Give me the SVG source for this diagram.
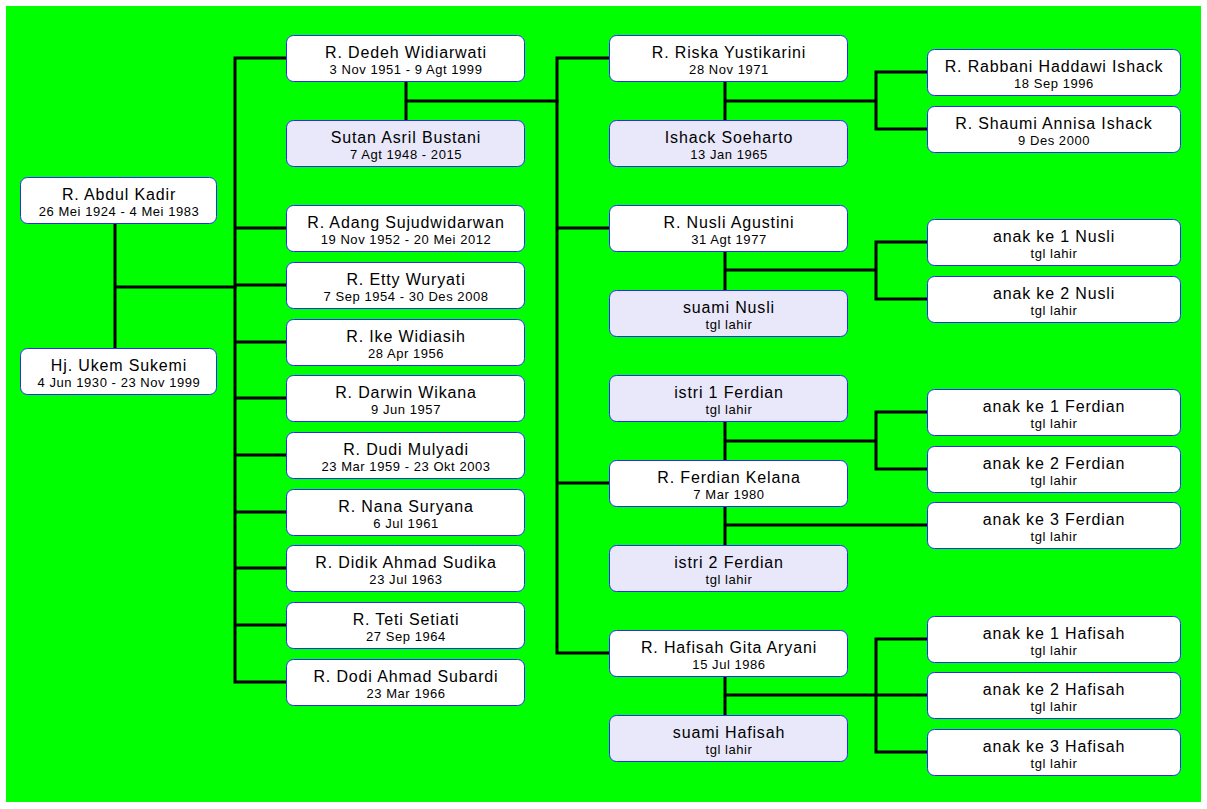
<svg xmlns="http://www.w3.org/2000/svg" width="1207" height="809" viewBox="0 0 1207 809">
<style>
.box{fill:#ffffff;stroke:#2a2aff;stroke-width:1}
.sp{fill:#e8e8fa;stroke:#2a2aff;stroke-width:1}
.n{font-family:"Liberation Sans",Arial,sans-serif;font-size:16px;letter-spacing:0.85px;fill:#000;text-anchor:middle}
.d{font-family:"Liberation Sans",Arial,sans-serif;font-size:13px;letter-spacing:0.55px;fill:#000;text-anchor:middle}
.c{fill:none;stroke:#000;stroke-width:3;stroke-linejoin:miter;stroke-linecap:square}
</style>
<rect x="0" y="0" width="1207" height="809" fill="#ffffff"/>
<rect x="6" y="6" width="1195" height="796" fill="#00ff00"/>
<g id="connectors" class="c">
<path d="M115 225V347M115 287H235"/>
<path d="M286 58H235V682H286M235 228H286M235 285H286M235 342H286M235 398H286M235 455H286M235 512H286M235 568H286M235 625H286"/>
<path d="M406 82V119M406 101H557"/>
<path d="M609 58H557V653H609M557 228H609M557 483H609"/>
<path d="M725 82V119M725 101H876M928 72H876V129H928"/>
<path d="M725 252V289M725 270H876M928 242H876V299H928"/>
<path d="M725 422V459M725 441H876M928 412H876V469H928M725 507V544M725 525H928"/>
<path d="M725 677V714M725 695H928M928 639H876V752H928"/>
</g>
<g id="n-abdul"><rect class="box" x="20.5" y="177.5" width="196" height="46" rx="7"/><text class="n" x="119" y="200">R. Abdul Kadir</text><text class="d" x="119" y="216">26 Mei 1924 - 4 Mei 1983</text></g>
<g id="n-ukem"><rect class="box" x="20.5" y="348.5" width="196" height="46" rx="7"/><text class="n" x="119" y="371">Hj. Ukem Sukemi</text><text class="d" x="119" y="387">4 Jun 1930 - 23 Nov 1999</text></g>

<g id="n-dedeh"><rect class="box" x="286.5" y="35.5" width="238" height="46" rx="7"/><text class="n" x="406" y="58">R. Dedeh Widiarwati</text><text class="d" x="406" y="74">3 Nov 1951 - 9 Agt 1999</text></g>
<g id="n-sutan"><rect class="sp" x="286.5" y="120.5" width="238" height="46" rx="7"/><text class="n" x="406" y="143">Sutan Asril Bustani</text><text class="d" x="406" y="159">7 Agt 1948 - 2015</text></g>
<g id="n-adang"><rect class="box" x="286.5" y="205.5" width="238" height="46" rx="7"/><text class="n" x="406" y="228">R. Adang Sujudwidarwan</text><text class="d" x="406" y="244">19 Nov 1952 - 20 Mei 2012</text></g>
<g id="n-etty"><rect class="box" x="286.5" y="262.5" width="238" height="46" rx="7"/><text class="n" x="406" y="285">R. Etty Wuryati</text><text class="d" x="406" y="301">7 Sep 1954 - 30 Des 2008</text></g>
<g id="n-ike"><rect class="box" x="286.5" y="319.5" width="238" height="46" rx="7"/><text class="n" x="406" y="342">R. Ike Widiasih</text><text class="d" x="406" y="358">28 Apr 1956</text></g>
<g id="n-darwin"><rect class="box" x="286.5" y="375.5" width="238" height="46" rx="7"/><text class="n" x="406" y="398">R. Darwin Wikana</text><text class="d" x="406" y="414">9 Jun 1957</text></g>
<g id="n-dudi"><rect class="box" x="286.5" y="432.5" width="238" height="46" rx="7"/><text class="n" x="406" y="455">R. Dudi Mulyadi</text><text class="d" x="406" y="471">23 Mar 1959 - 23 Okt 2003</text></g>
<g id="n-nana"><rect class="box" x="286.5" y="489.5" width="238" height="46" rx="7"/><text class="n" x="406" y="512">R. Nana Suryana</text><text class="d" x="406" y="528">6 Jul 1961</text></g>
<g id="n-didik"><rect class="box" x="286.5" y="545.5" width="238" height="46" rx="7"/><text class="n" x="406" y="568">R. Didik Ahmad Sudika</text><text class="d" x="406" y="584">23 Jul 1963</text></g>
<g id="n-teti"><rect class="box" x="286.5" y="602.5" width="238" height="46" rx="7"/><text class="n" x="406" y="625">R. Teti Setiati</text><text class="d" x="406" y="641">27 Sep 1964</text></g>
<g id="n-dodi"><rect class="box" x="286.5" y="659.5" width="238" height="46" rx="7"/><text class="n" x="406" y="682">R. Dodi Ahmad Subardi</text><text class="d" x="406" y="698">23 Mar 1966</text></g>

<g id="n-riska"><rect class="box" x="609.5" y="35.5" width="238" height="46" rx="7"/><text class="n" x="729" y="58">R. Riska Yustikarini</text><text class="d" x="729" y="74">28 Nov 1971</text></g>
<g id="n-ishack"><rect class="sp" x="609.5" y="120.5" width="238" height="46" rx="7"/><text class="n" x="729" y="143">Ishack Soeharto</text><text class="d" x="729" y="159">13 Jan 1965</text></g>
<g id="n-nusli"><rect class="box" x="609.5" y="205.5" width="238" height="46" rx="7"/><text class="n" x="729" y="228">R. Nusli Agustini</text><text class="d" x="729" y="244">31 Agt 1977</text></g>
<g id="n-suaminusli"><rect class="sp" x="609.5" y="290.5" width="238" height="46" rx="7"/><text class="n" x="729" y="313">suami Nusli</text><text class="d" x="729" y="329">tgl lahir</text></g>
<g id="n-istri1"><rect class="sp" x="609.5" y="375.5" width="238" height="46" rx="7"/><text class="n" x="729" y="398">istri 1 Ferdian</text><text class="d" x="729" y="414">tgl lahir</text></g>
<g id="n-ferdian"><rect class="box" x="609.5" y="460.5" width="238" height="46" rx="7"/><text class="n" x="729" y="483">R. Ferdian Kelana</text><text class="d" x="729" y="499">7 Mar 1980</text></g>
<g id="n-istri2"><rect class="sp" x="609.5" y="545.5" width="238" height="46" rx="7"/><text class="n" x="729" y="568">istri 2 Ferdian</text><text class="d" x="729" y="584">tgl lahir</text></g>
<g id="n-hafisah"><rect class="box" x="609.5" y="630.5" width="238" height="46" rx="7"/><text class="n" x="729" y="653">R. Hafisah Gita Aryani</text><text class="d" x="729" y="669">15 Jul 1986</text></g>
<g id="n-suamihafisah"><rect class="sp" x="609.5" y="715.5" width="238" height="46" rx="7"/><text class="n" x="729" y="738">suami Hafisah</text><text class="d" x="729" y="754">tgl lahir</text></g>

<g id="n-rabbani"><rect class="box" x="927.5" y="49.5" width="253" height="46" rx="7"/><text class="n" x="1054" y="72">R. Rabbani Haddawi Ishack</text><text class="d" x="1054" y="88">18 Sep 1996</text></g>
<g id="n-shaumi"><rect class="box" x="927.5" y="106.5" width="253" height="46" rx="7"/><text class="n" x="1054" y="129">R. Shaumi Annisa Ishack</text><text class="d" x="1054" y="145">9 Des 2000</text></g>
<g id="n-nusli1"><rect class="box" x="927.5" y="219.5" width="253" height="46" rx="7"/><text class="n" x="1054" y="242">anak ke 1 Nusli</text><text class="d" x="1054" y="258">tgl lahir</text></g>
<g id="n-nusli2"><rect class="box" x="927.5" y="276.5" width="253" height="46" rx="7"/><text class="n" x="1054" y="299">anak ke 2 Nusli</text><text class="d" x="1054" y="315">tgl lahir</text></g>
<g id="n-ferdian1"><rect class="box" x="927.5" y="389.5" width="253" height="46" rx="7"/><text class="n" x="1054" y="412">anak ke 1 Ferdian</text><text class="d" x="1054" y="428">tgl lahir</text></g>
<g id="n-ferdian2"><rect class="box" x="927.5" y="446.5" width="253" height="46" rx="7"/><text class="n" x="1054" y="469">anak ke 2 Ferdian</text><text class="d" x="1054" y="485">tgl lahir</text></g>
<g id="n-ferdian3"><rect class="box" x="927.5" y="502.5" width="253" height="46" rx="7"/><text class="n" x="1054" y="525">anak ke 3 Ferdian</text><text class="d" x="1054" y="541">tgl lahir</text></g>
<g id="n-hafisah1"><rect class="box" x="927.5" y="616.5" width="253" height="46" rx="7"/><text class="n" x="1054" y="639">anak ke 1 Hafisah</text><text class="d" x="1054" y="655">tgl lahir</text></g>
<g id="n-hafisah2"><rect class="box" x="927.5" y="672.5" width="253" height="46" rx="7"/><text class="n" x="1054" y="695">anak ke 2 Hafisah</text><text class="d" x="1054" y="711">tgl lahir</text></g>
<g id="n-hafisah3"><rect class="box" x="927.5" y="729.5" width="253" height="46" rx="7"/><text class="n" x="1054" y="752">anak ke 3 Hafisah</text><text class="d" x="1054" y="768">tgl lahir</text></g>
</svg>
